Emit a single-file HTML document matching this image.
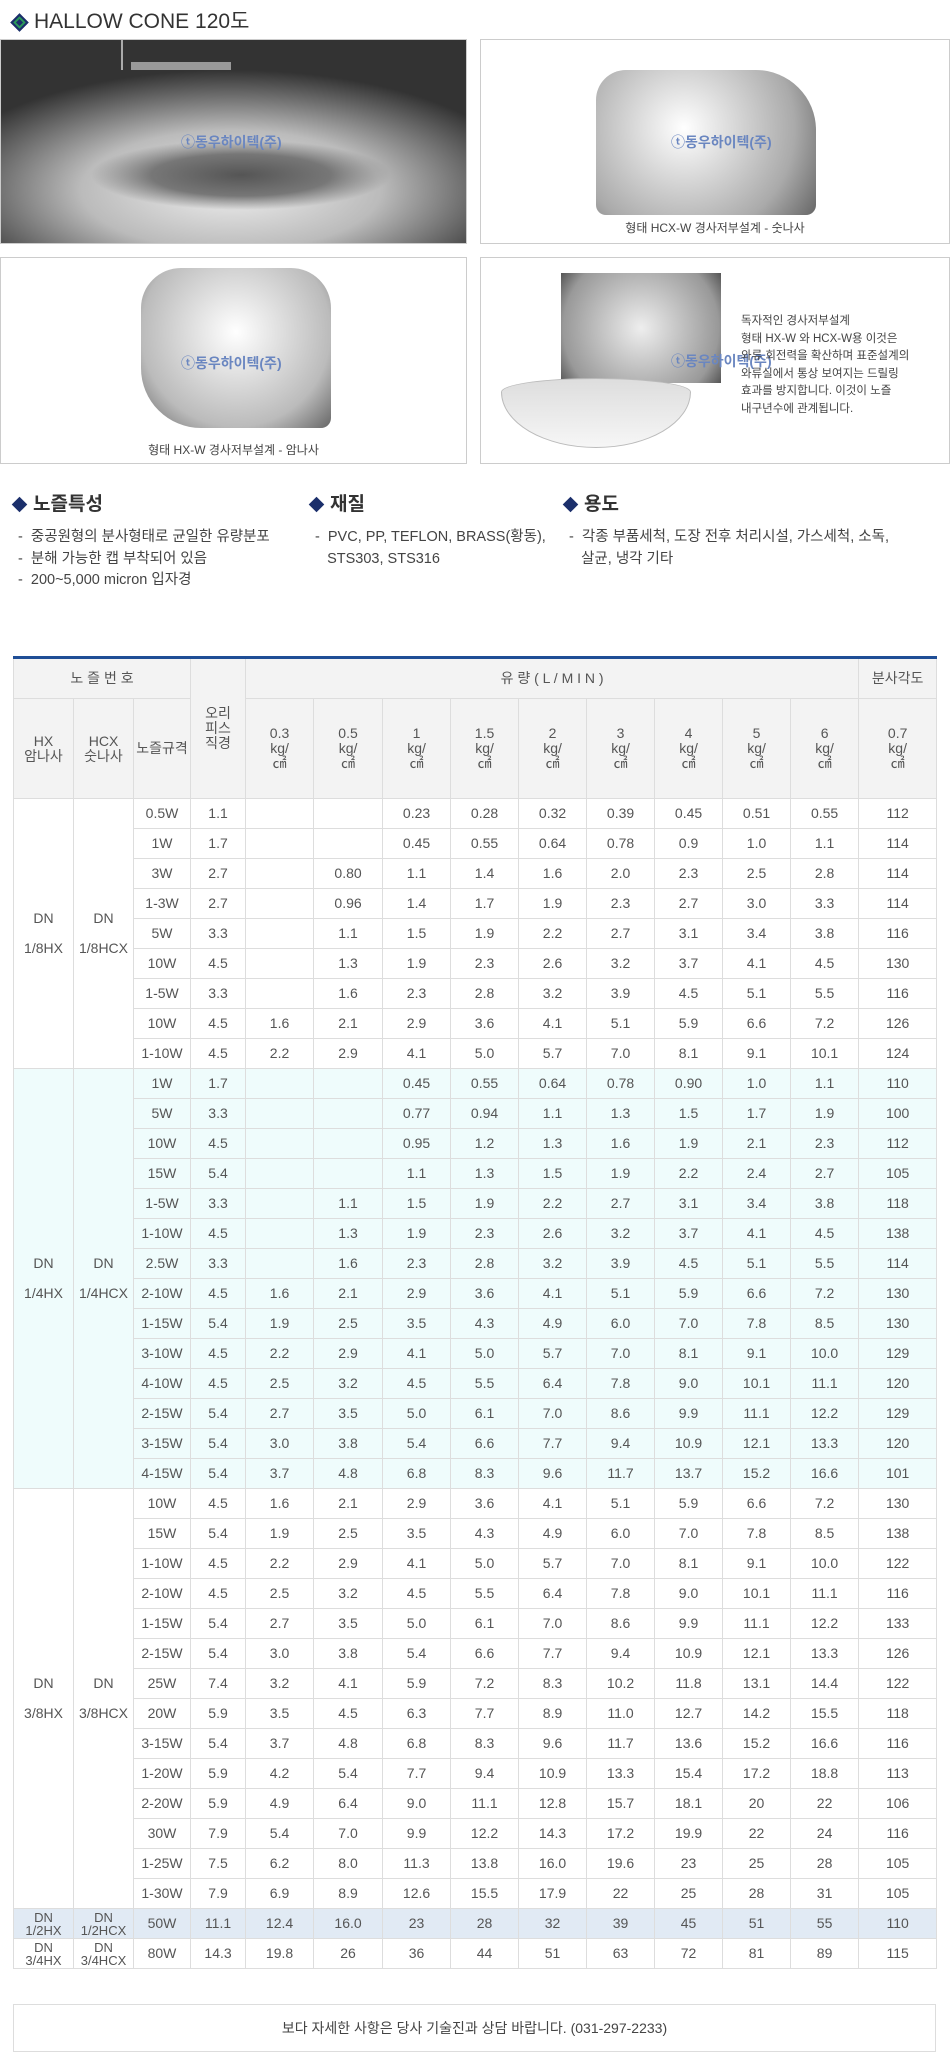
<!DOCTYPE html>
<html><head><meta charset="utf-8">
<style>
*{margin:0;padding:0;box-sizing:border-box}
body{width:950px;height:2053px;background:#fff;font-family:"Liberation Sans","Noto Sans CJK KR",sans-serif;color:#555;position:relative;overflow:hidden}
.abs{position:absolute}
.dia{display:inline-block;width:11px;height:11px;background:#1b2f6b;transform:rotate(45deg);margin-right:8px;vertical-align:middle}
.panel{position:absolute;border:1px solid #ccc;background:#fff;overflow:hidden}
.cap{position:absolute;width:100%;text-align:center;font-size:12px;color:#444}
.wm{position:absolute;font-size:14px;color:#6a86c0;font-weight:bold}
h3{position:absolute;font-size:19px;font-weight:bold;color:#333;top:489px}
.bl{position:absolute;font-size:14.5px;color:#444;line-height:21.5px}
table{position:absolute;left:13px;top:656px;width:923px;border-collapse:collapse;table-layout:fixed;border-top:3px solid #1f4e96;font-size:14px}
td{border:1px solid #ddd;text-align:center;color:#555;height:30px;padding:0;line-height:15px}
thead td{background:#f3f3f3;color:#555}
.c td{background:#effcfc}
.h td{background:#e1eaf4}
tbody td.g{background:#fff}
.c td.g{background:#effcfc}
</style></head><body>
<div class="abs" style="left:13px;top:5px;font-size:21px;color:#333"><span class="dia" style="width:13px;height:13px;background:#1b2f6b;border:2px solid #1b2f6b;box-shadow:inset 0 0 0 2px #2a9a5a"></span>HALLOW CONE 120도</div>

<div class="panel" style="left:0;top:39px;width:467px;height:205px;background:radial-gradient(ellipse 150px 35px at 240px 135px,#555 0%,#777 60%,transparent 100%),radial-gradient(ellipse 300px 120px at 230px 150px,#eee 0%,#bbb 50%,#333 100%),#222">
<div class="abs" style="left:120px;top:0;width:2px;height:30px;background:#aaa"></div>
<div class="abs" style="left:130px;top:22px;width:100px;height:8px;background:#999"></div>
<div class="wm" style="left:180px;top:92px">ⓣ동우하이텍(주)</div></div>
<div class="panel" style="left:480px;top:39px;width:470px;height:205px">
<div class="abs" style="left:115px;top:30px;width:220px;height:145px;border-radius:30px 60px 10px 10px;background:radial-gradient(circle at 40% 40%,#fff,#aaa 70%,#666)"></div>
<div class="wm" style="left:190px;top:92px">ⓣ동우하이텍(주)</div>
<div class="cap" style="top:179px">형태 HCX-W 경사저부설계 - 숫나사</div></div>
<div class="panel" style="left:0;top:257px;width:467px;height:207px">
<div class="abs" style="left:140px;top:10px;width:190px;height:160px;border-radius:40px 40px 10px 60px;background:radial-gradient(circle at 50% 40%,#fff,#bbb 70%,#666)"></div>
<div class="wm" style="left:180px;top:95px">ⓣ동우하이텍(주)</div>
<div class="cap" style="top:183px">형태 HX-W 경사저부설계 - 암나사</div></div>
<div class="panel" style="left:480px;top:257px;width:470px;height:207px">
<div class="abs" style="left:80px;top:15px;width:160px;height:110px;background:radial-gradient(circle at 50% 50%,#eee,#999 80%,#555)"></div>
<div class="abs" style="left:20px;top:120px;width:190px;height:70px;border-radius:50% 50% 50% 50%/20% 20% 80% 80%;background:linear-gradient(#ddd,#f6f6f6);border:1px solid #bbb"></div>
<div class="wm" style="left:190px;top:93px">ⓣ동우하이텍(주)</div>
<div class="abs" style="left:260px;top:55px;font-size:11.5px;line-height:17.5px;color:#444">독자적인 경사저부설계<br>형태 HX-W 와 HCX-W용 이것은<br>와류 회전력을 확산하며 표준설계의<br>와류실에서 통상 보여지는 드릴링<br>효과를 방지합니다. 이것이 노즐<br>내구년수에 관계됩니다.</div></div>

<h3 style="left:14px"><span class="dia"></span>노즐특성</h3>
<h3 style="left:311px"><span class="dia"></span>재질</h3>
<h3 style="left:565px"><span class="dia"></span>용도</h3>
<div class="bl" style="left:18px;top:527px">-&nbsp; 중공원형의 분사형태로 균일한 유량분포<br>-&nbsp; 분해 가능한 캡 부착되어 있음<br>-&nbsp; 200~5,000 micron 입자경</div>
<div class="bl" style="left:315px;top:527px">-&nbsp; PVC, PP, TEFLON, BRASS(황동),<br>&nbsp;&nbsp; STS303, STS316</div>
<div class="bl" style="left:569px;top:527px">-&nbsp; 각종 부품세척, 도장 전후 처리시설, 가스세척, 소독,<br>&nbsp;&nbsp; 살균, 냉각 기타</div>

<table>
<colgroup><col style="width:60px"><col style="width:60px"><col style="width:57px"><col style="width:55px"><col style="width:68px"><col style="width:69px"><col style="width:68px"><col style="width:68px"><col style="width:68px"><col style="width:68px"><col style="width:68px"><col style="width:68px"><col style="width:68px"><col style="width:78px"></colgroup>
<thead>
<tr style="height:41px"><td colspan="3">노 즐 번 호</td><td rowspan="2">오리<br>피스<br>직경</td><td colspan="9">유 량 ( L / M I N )</td><td>분사각도</td></tr>
<tr style="height:100px"><td>HX<br>암나사</td><td>HCX<br>숫나사</td><td>노즐규격</td><td>0.3<br>kg/<br>㎠</td><td>0.5<br>kg/<br>㎠</td><td>1<br>kg/<br>㎠</td><td>1.5<br>kg/<br>㎠</td><td>2<br>kg/<br>㎠</td><td>3<br>kg/<br>㎠</td><td>4<br>kg/<br>㎠</td><td>5<br>kg/<br>㎠</td><td>6<br>kg/<br>㎠</td><td>0.7<br>kg/<br>㎠</td></tr>
</thead>
<tbody>
<tr><td rowspan="9" class="g">DN<br><br>1/8HX</td><td rowspan="9" class="g">DN<br><br>1/8HCX</td><td>0.5W</td><td>1.1</td><td></td><td></td><td>0.23</td><td>0.28</td><td>0.32</td><td>0.39</td><td>0.45</td><td>0.51</td><td>0.55</td><td>112</td></tr>
<tr><td>1W</td><td>1.7</td><td></td><td></td><td>0.45</td><td>0.55</td><td>0.64</td><td>0.78</td><td>0.9</td><td>1.0</td><td>1.1</td><td>114</td></tr>
<tr><td>3W</td><td>2.7</td><td></td><td>0.80</td><td>1.1</td><td>1.4</td><td>1.6</td><td>2.0</td><td>2.3</td><td>2.5</td><td>2.8</td><td>114</td></tr>
<tr><td>1-3W</td><td>2.7</td><td></td><td>0.96</td><td>1.4</td><td>1.7</td><td>1.9</td><td>2.3</td><td>2.7</td><td>3.0</td><td>3.3</td><td>114</td></tr>
<tr><td>5W</td><td>3.3</td><td></td><td>1.1</td><td>1.5</td><td>1.9</td><td>2.2</td><td>2.7</td><td>3.1</td><td>3.4</td><td>3.8</td><td>116</td></tr>
<tr><td>10W</td><td>4.5</td><td></td><td>1.3</td><td>1.9</td><td>2.3</td><td>2.6</td><td>3.2</td><td>3.7</td><td>4.1</td><td>4.5</td><td>130</td></tr>
<tr><td>1-5W</td><td>3.3</td><td></td><td>1.6</td><td>2.3</td><td>2.8</td><td>3.2</td><td>3.9</td><td>4.5</td><td>5.1</td><td>5.5</td><td>116</td></tr>
<tr><td>10W</td><td>4.5</td><td>1.6</td><td>2.1</td><td>2.9</td><td>3.6</td><td>4.1</td><td>5.1</td><td>5.9</td><td>6.6</td><td>7.2</td><td>126</td></tr>
<tr><td>1-10W</td><td>4.5</td><td>2.2</td><td>2.9</td><td>4.1</td><td>5.0</td><td>5.7</td><td>7.0</td><td>8.1</td><td>9.1</td><td>10.1</td><td>124</td></tr>
</tbody>
<tbody class="c">
<tr><td rowspan="14" class="g">DN<br><br>1/4HX</td><td rowspan="14" class="g">DN<br><br>1/4HCX</td><td>1W</td><td>1.7</td><td></td><td></td><td>0.45</td><td>0.55</td><td>0.64</td><td>0.78</td><td>0.90</td><td>1.0</td><td>1.1</td><td>110</td></tr>
<tr><td>5W</td><td>3.3</td><td></td><td></td><td>0.77</td><td>0.94</td><td>1.1</td><td>1.3</td><td>1.5</td><td>1.7</td><td>1.9</td><td>100</td></tr>
<tr><td>10W</td><td>4.5</td><td></td><td></td><td>0.95</td><td>1.2</td><td>1.3</td><td>1.6</td><td>1.9</td><td>2.1</td><td>2.3</td><td>112</td></tr>
<tr><td>15W</td><td>5.4</td><td></td><td></td><td>1.1</td><td>1.3</td><td>1.5</td><td>1.9</td><td>2.2</td><td>2.4</td><td>2.7</td><td>105</td></tr>
<tr><td>1-5W</td><td>3.3</td><td></td><td>1.1</td><td>1.5</td><td>1.9</td><td>2.2</td><td>2.7</td><td>3.1</td><td>3.4</td><td>3.8</td><td>118</td></tr>
<tr><td>1-10W</td><td>4.5</td><td></td><td>1.3</td><td>1.9</td><td>2.3</td><td>2.6</td><td>3.2</td><td>3.7</td><td>4.1</td><td>4.5</td><td>138</td></tr>
<tr><td>2.5W</td><td>3.3</td><td></td><td>1.6</td><td>2.3</td><td>2.8</td><td>3.2</td><td>3.9</td><td>4.5</td><td>5.1</td><td>5.5</td><td>114</td></tr>
<tr><td>2-10W</td><td>4.5</td><td>1.6</td><td>2.1</td><td>2.9</td><td>3.6</td><td>4.1</td><td>5.1</td><td>5.9</td><td>6.6</td><td>7.2</td><td>130</td></tr>
<tr><td>1-15W</td><td>5.4</td><td>1.9</td><td>2.5</td><td>3.5</td><td>4.3</td><td>4.9</td><td>6.0</td><td>7.0</td><td>7.8</td><td>8.5</td><td>130</td></tr>
<tr><td>3-10W</td><td>4.5</td><td>2.2</td><td>2.9</td><td>4.1</td><td>5.0</td><td>5.7</td><td>7.0</td><td>8.1</td><td>9.1</td><td>10.0</td><td>129</td></tr>
<tr><td>4-10W</td><td>4.5</td><td>2.5</td><td>3.2</td><td>4.5</td><td>5.5</td><td>6.4</td><td>7.8</td><td>9.0</td><td>10.1</td><td>11.1</td><td>120</td></tr>
<tr><td>2-15W</td><td>5.4</td><td>2.7</td><td>3.5</td><td>5.0</td><td>6.1</td><td>7.0</td><td>8.6</td><td>9.9</td><td>11.1</td><td>12.2</td><td>129</td></tr>
<tr><td>3-15W</td><td>5.4</td><td>3.0</td><td>3.8</td><td>5.4</td><td>6.6</td><td>7.7</td><td>9.4</td><td>10.9</td><td>12.1</td><td>13.3</td><td>120</td></tr>
<tr><td>4-15W</td><td>5.4</td><td>3.7</td><td>4.8</td><td>6.8</td><td>8.3</td><td>9.6</td><td>11.7</td><td>13.7</td><td>15.2</td><td>16.6</td><td>101</td></tr>
</tbody>
<tbody>
<tr><td rowspan="14" class="g">DN<br><br>3/8HX</td><td rowspan="14" class="g">DN<br><br>3/8HCX</td><td>10W</td><td>4.5</td><td>1.6</td><td>2.1</td><td>2.9</td><td>3.6</td><td>4.1</td><td>5.1</td><td>5.9</td><td>6.6</td><td>7.2</td><td>130</td></tr>
<tr><td>15W</td><td>5.4</td><td>1.9</td><td>2.5</td><td>3.5</td><td>4.3</td><td>4.9</td><td>6.0</td><td>7.0</td><td>7.8</td><td>8.5</td><td>138</td></tr>
<tr><td>1-10W</td><td>4.5</td><td>2.2</td><td>2.9</td><td>4.1</td><td>5.0</td><td>5.7</td><td>7.0</td><td>8.1</td><td>9.1</td><td>10.0</td><td>122</td></tr>
<tr><td>2-10W</td><td>4.5</td><td>2.5</td><td>3.2</td><td>4.5</td><td>5.5</td><td>6.4</td><td>7.8</td><td>9.0</td><td>10.1</td><td>11.1</td><td>116</td></tr>
<tr><td>1-15W</td><td>5.4</td><td>2.7</td><td>3.5</td><td>5.0</td><td>6.1</td><td>7.0</td><td>8.6</td><td>9.9</td><td>11.1</td><td>12.2</td><td>133</td></tr>
<tr><td>2-15W</td><td>5.4</td><td>3.0</td><td>3.8</td><td>5.4</td><td>6.6</td><td>7.7</td><td>9.4</td><td>10.9</td><td>12.1</td><td>13.3</td><td>126</td></tr>
<tr><td>25W</td><td>7.4</td><td>3.2</td><td>4.1</td><td>5.9</td><td>7.2</td><td>8.3</td><td>10.2</td><td>11.8</td><td>13.1</td><td>14.4</td><td>122</td></tr>
<tr><td>20W</td><td>5.9</td><td>3.5</td><td>4.5</td><td>6.3</td><td>7.7</td><td>8.9</td><td>11.0</td><td>12.7</td><td>14.2</td><td>15.5</td><td>118</td></tr>
<tr><td>3-15W</td><td>5.4</td><td>3.7</td><td>4.8</td><td>6.8</td><td>8.3</td><td>9.6</td><td>11.7</td><td>13.6</td><td>15.2</td><td>16.6</td><td>116</td></tr>
<tr><td>1-20W</td><td>5.9</td><td>4.2</td><td>5.4</td><td>7.7</td><td>9.4</td><td>10.9</td><td>13.3</td><td>15.4</td><td>17.2</td><td>18.8</td><td>113</td></tr>
<tr><td>2-20W</td><td>5.9</td><td>4.9</td><td>6.4</td><td>9.0</td><td>11.1</td><td>12.8</td><td>15.7</td><td>18.1</td><td>20</td><td>22</td><td>106</td></tr>
<tr><td>30W</td><td>7.9</td><td>5.4</td><td>7.0</td><td>9.9</td><td>12.2</td><td>14.3</td><td>17.2</td><td>19.9</td><td>22</td><td>24</td><td>116</td></tr>
<tr><td>1-25W</td><td>7.5</td><td>6.2</td><td>8.0</td><td>11.3</td><td>13.8</td><td>16.0</td><td>19.6</td><td>23</td><td>25</td><td>28</td><td>105</td></tr>
<tr><td>1-30W</td><td>7.9</td><td>6.9</td><td>8.9</td><td>12.6</td><td>15.5</td><td>17.9</td><td>22</td><td>25</td><td>28</td><td>31</td><td>105</td></tr>
</tbody>
<tbody>
<tr class="h"><td style="font-size:13px;line-height:13px">DN<br>1/2HX</td><td style="font-size:13px;line-height:13px">DN<br>1/2HCX</td><td>50W</td><td>11.1</td><td>12.4</td><td>16.0</td><td>23</td><td>28</td><td>32</td><td>39</td><td>45</td><td>51</td><td>55</td><td>110</td></tr>
<tr><td style="font-size:13px;line-height:13px">DN<br>3/4HX</td><td style="font-size:13px;line-height:13px">DN<br>3/4HCX</td><td>80W</td><td>14.3</td><td>19.8</td><td>26</td><td>36</td><td>44</td><td>51</td><td>63</td><td>72</td><td>81</td><td>89</td><td>115</td></tr>
</tbody>
</table>

<div class="abs" style="left:13px;top:2004px;width:923px;height:48px;border:1px solid #ddd;text-align:center;line-height:46px;font-size:14px;color:#444">보다 자세한 사항은 당사 기술진과 상담 바랍니다. (031-297-2233)</div>
</body></html>
